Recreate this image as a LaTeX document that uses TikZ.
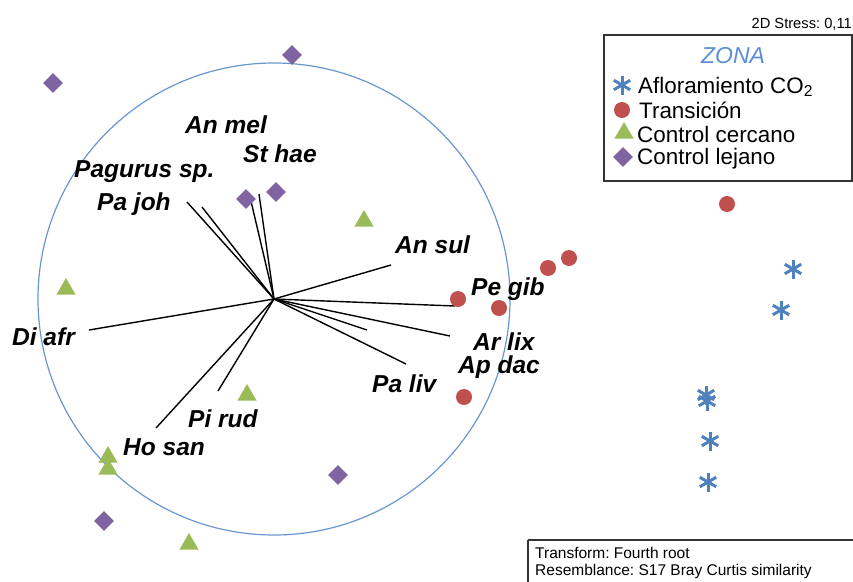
\documentclass[tikz,border=0pt]{standalone}
\usepackage{fontspec}
\setmainfont{Liberation Sans}
\frenchspacing
\usetikzlibrary{shapes.geometric}
\definecolor{lejanopurple}{HTML}{8064A2}
\definecolor{cercanogreen}{HTML}{9BBB59}
\definecolor{transred}{HTML}{C0504D}
\definecolor{aflorblue}{HTML}{4F81BD}
\definecolor{ringblue}{HTML}{6A96CF}
\definecolor{zonablue}{HTML}{5B8DD6}
\definecolor{framegray}{HTML}{333333}

\begin{document}
\begin{tikzpicture}[x=1pt, y=-1pt,
    especie/.style={font=\fontsize{24.5}{26}\selectfont\bfseries\itshape, anchor=base west, inner sep=0pt},
    leyenda/.style={font=\fontsize{22.4}{24}\selectfont, anchor=base west, inner sep=0pt},
    nota/.style={font=\fontsize{15.5}{17}\selectfont, anchor=base west, inner sep=0pt},
    vector/.style={line width=1.4pt, black},
    lejano/.style={diamond, fill=lejanopurple, minimum width=20pt, minimum height=20pt, inner sep=0pt},
    cercano/.style={regular polygon, regular polygon sides=3, fill=cercanogreen, minimum size=22pt, inner sep=0pt},
    transicion/.style={circle, fill=transred, minimum size=16pt, inner sep=0pt},
    aflora/.pic={\foreach \ang in {90,30,-30} \draw[aflorblue, line width=3pt] (\ang:9.5) -- (\ang+180:9.5);}]
    \useasboundingbox (0,0) rectangle (853,581);

    % correlation circle and vectors
    \coordinate (o) at (274,299);
    \draw[ringblue, line width=1.2pt] (o) circle[radius=236];
    \foreach \nm/\px/\py in {pagurus/187/202, pajoh/202/207, anmel/250/197, sthae/259/194,
        ansul/391/265, pegib/455/306, apdac/367/330, arlix/450/336, paliv/406/364,
        diafr/89/330, hosan/156/428, pirud/218/391}
        \draw[vector] (o) -- (\px,\py) coordinate (\nm-tip);

    \node[especie] (anmel) at (185,133) {An mel};
    \node[especie] (sthae) at (243,162) {St hae};
    \node[especie] (pagurus) at (74,177) {Pagurus sp.};
    \node[especie] (pajoh) at (97,210) {Pa joh};
    \node[especie] (ansul) at (395,253) {An sul};
    \node[especie] (pegib) at (471,295) {Pe gib};
    \node[especie] (arlix) at (473,350) {Ar lix};
    \node[especie] (apdac) at (458,373) {Ap dac};
    \node[especie] (paliv) at (372,392) {Pa liv};
    \node[especie] (diafr) at (12,345) {Di afr};
    \node[especie] (pirud) at (188,427) {Pi rud};
    \node[especie] (hosan) at (123,455) {Ho san};

    % samples
    \foreach \px/\py [count=\i] in {53/83, 292/55, 246/199, 276/192, 338/475, 104/521}
        \node[lejano] (lej\i) at (\px,\py) {};
    \foreach \px/\py [count=\i] in {364/221, 66/289, 247/395, 108/457, 108/469, 189/544}
        \node[cercano] (cer\i) at (\px,\py) {};
    \foreach \px/\py [count=\i] in {727/204, 569/258, 548/268, 458/299, 499/308, 464/397}
        \node[transicion] (tra\i) at (\px,\py) {};
    \foreach \px/\py [count=\i] in {793/269, 781/310, 706/395, 707/401, 710/441, 708/482}
        \pic (afl\i) at (\px,\py) {aflora};

    % legend
    \node[font=\fontsize{14.7}{16}\selectfont, anchor=base east, inner sep=0pt] (stress) at (852,28) {2D Stress: 0,11};
    \draw[framegray, line width=1.5pt] (604,35) rectangle (852,181);
    \node[font=\fontsize{23}{25}\selectfont\itshape, text=zonablue, anchor=base, inner sep=0pt] (zona) at (733,63) {ZONA};
    \pic (legafl) at (622,85) {aflora};
    \node[transicion] (legtra) at (622,110) {};
    \node[cercano] (legcer) at (624,133) {};
    \node[lejano] (leglej) at (623,157) {};
    \node[leyenda] (txtafl) at (638,93) {Afloramiento CO\textsubscript{2}};
    \node[leyenda] (txttra) at (639,118) {Transición};
    \node[leyenda] (txtcer) at (637,142) {Control cercano};
    \node[leyenda] (txtlej) at (637,164) {Control lejano};

    % method note
    \draw[framegray, line width=1.5pt] (528,540) -- (528,590) (528,540) -- (860,540);
    \node[nota] (transf) at (535,558) {Transform: Fourth root};
    \node[nota] (resem) at (535,575) {Resemblance: S17 Bray Curtis similarity};
\end{tikzpicture}
\end{document}
